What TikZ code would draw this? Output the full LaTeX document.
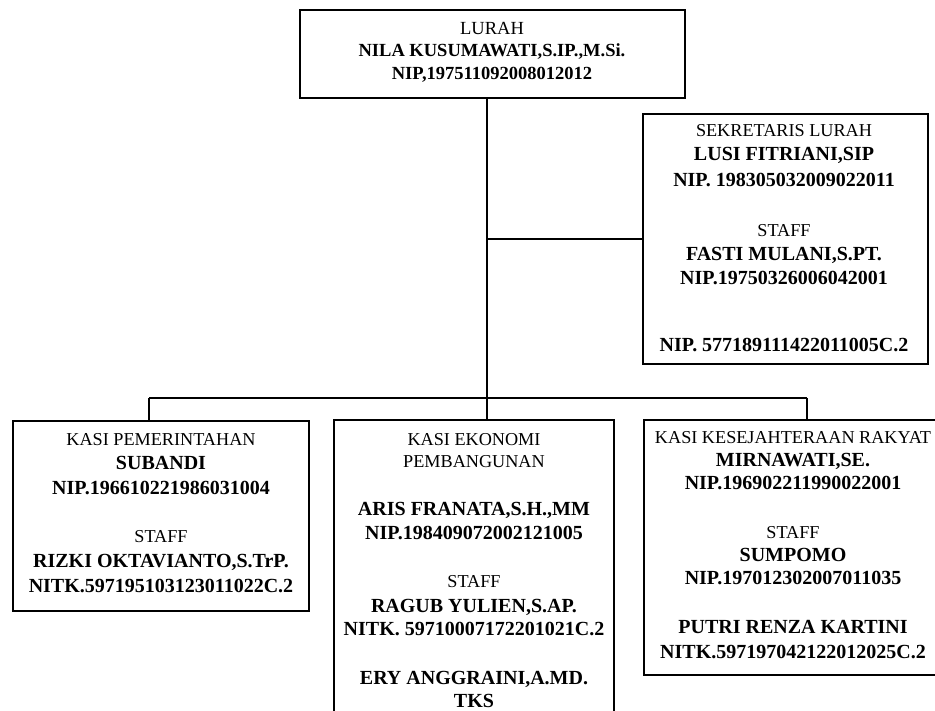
\documentclass[tikz,border=0pt]{standalone}
\usepackage{fontspec}
\setmainfont{Liberation Serif}
\tikzset{
  box/.style={draw=black, line width=2pt, rectangle, anchor=north west, inner sep=0pt},
  link/.style={draw=black, line width=1.6pt},
  rl/.style={anchor=base, inner sep=0pt, font=\fontsize{18.2}{20}\selectfont},
  bl/.style={anchor=base, inner sep=0pt, font=\fontsize{20}{22}\selectfont\bfseries},
  rlt/.style={anchor=base, inner sep=0pt, font=\fontsize{18.5}{20}\selectfont},
  blt/.style={anchor=base, inner sep=0pt, font=\fontsize{18.5}{20}\selectfont\bfseries}
}
\begin{document}
\begin{tikzpicture}[x=1pt,y=-1pt]
\useasboundingbox (0,0) rectangle (935,711);
% boxes
\node[box, minimum width=385pt, minimum height=88pt] (top) at (299,9) {};
\node[box, minimum width=285pt, minimum height=250pt] (sec) at (642,113) {};
\node[box, minimum width=296pt, minimum height=190pt] (left) at (12,420) {};
\node[box, minimum width=280pt, minimum height=330pt] (mid) at (333,419) {};
\node[box, minimum width=305pt, minimum height=255pt] (right) at (643,419) {};
% connectors
\coordinate (bus) at (487,398);
\coordinate (busl) at (149,398);
\coordinate (busr) at (807,398);
\draw[link] (top.south -| bus) -- (bus);
\draw[link] (sec.west) -- (sec.west -| bus);
\draw[link] (busl) -- (busr);
\draw[link] (busl) -- (busl |- left.north);
\draw[link] (busr) -- (busr |- right.north);
\draw[link] (bus) -- (bus |- mid.north);
% top text
\node[rlt] (t1) at (492,35) {LURAH};
\node[blt] (t2) at (492,57) {NILA KUSUMAWATI,S.IP.,M.Si.};
\node[blt] (t3) at (492,80) {NIP,197511092008012012};
% secretary text
\node[rl] (s1) at (784,137) {SEKRETARIS LURAH};
\node[bl] (s2) at (784,161) {LUSI FITRIANI,SIP};
\node[bl] (s3) at (784,187) {NIP. 198305032009022011};
\node[rl] (s4) at (784,237) {STAFF};
\node[bl] (s5) at (784,261) {FASTI MULANI,S.PT.};
\node[bl] (s6) at (784,285) {NIP.19750326006042001};
\node[bl] (s7) at (784,352) {NIP. 577189111422011005C.2};
% left text
\node[rl] (l1) at (161,445) {KASI PEMERINTAHAN};
\node[bl] (l2) at (161,469) {SUBANDI};
\node[bl] (l3) at (161,494) {NIP.196610221986031004};
\node[rl] (l4) at (161,542) {STAFF};
\node[bl] (l5) at (161,567) {RIZKI OKTAVIANTO,S.TrP.};
\node[bl] (l6) at (161,592) {NITK.597195103123011022C.2};
% middle text
\node[rl] (m1) at (474,445) {KASI EKONOMI};
\node[rl] (m2) at (474,467) {PEMBANGUNAN};
\node[bl] (m3) at (474,515) {ARIS FRANATA,S.H.,MM};
\node[bl] (m4) at (474,539) {NIP.198409072002121005};
\node[rl] (m5) at (474,587) {STAFF};
\node[bl] (m6) at (474,612) {RAGUB YULIEN,S.AP.};
\node[bl] (m7) at (474,635) {NITK. 59710007172201021C.2};
\node[bl] (m8) at (474,684) {ERY ANGGRAINI,A.MD.};
\node[bl] (m9) at (474,707) {TKS};
% right text
\node[rl] (r1) at (793,443) {KASI KESEJAHTERAAN RAKYAT};
\node[bl] (r2) at (793,466) {MIRNAWATI,SE.};
\node[bl] (r3) at (793,489) {NIP.196902211990022001};
\node[rl] (r4) at (793,538) {STAFF};
\node[bl] (r5) at (793,561) {SUMPOMO};
\node[bl] (r6) at (793,584) {NIP.197012302007011035};
\node[bl] (r7) at (793,633) {PUTRI RENZA KARTINI};
\node[bl] (r8) at (793,658) {NITK.597197042122012025C.2};
\end{tikzpicture}
\end{document}
